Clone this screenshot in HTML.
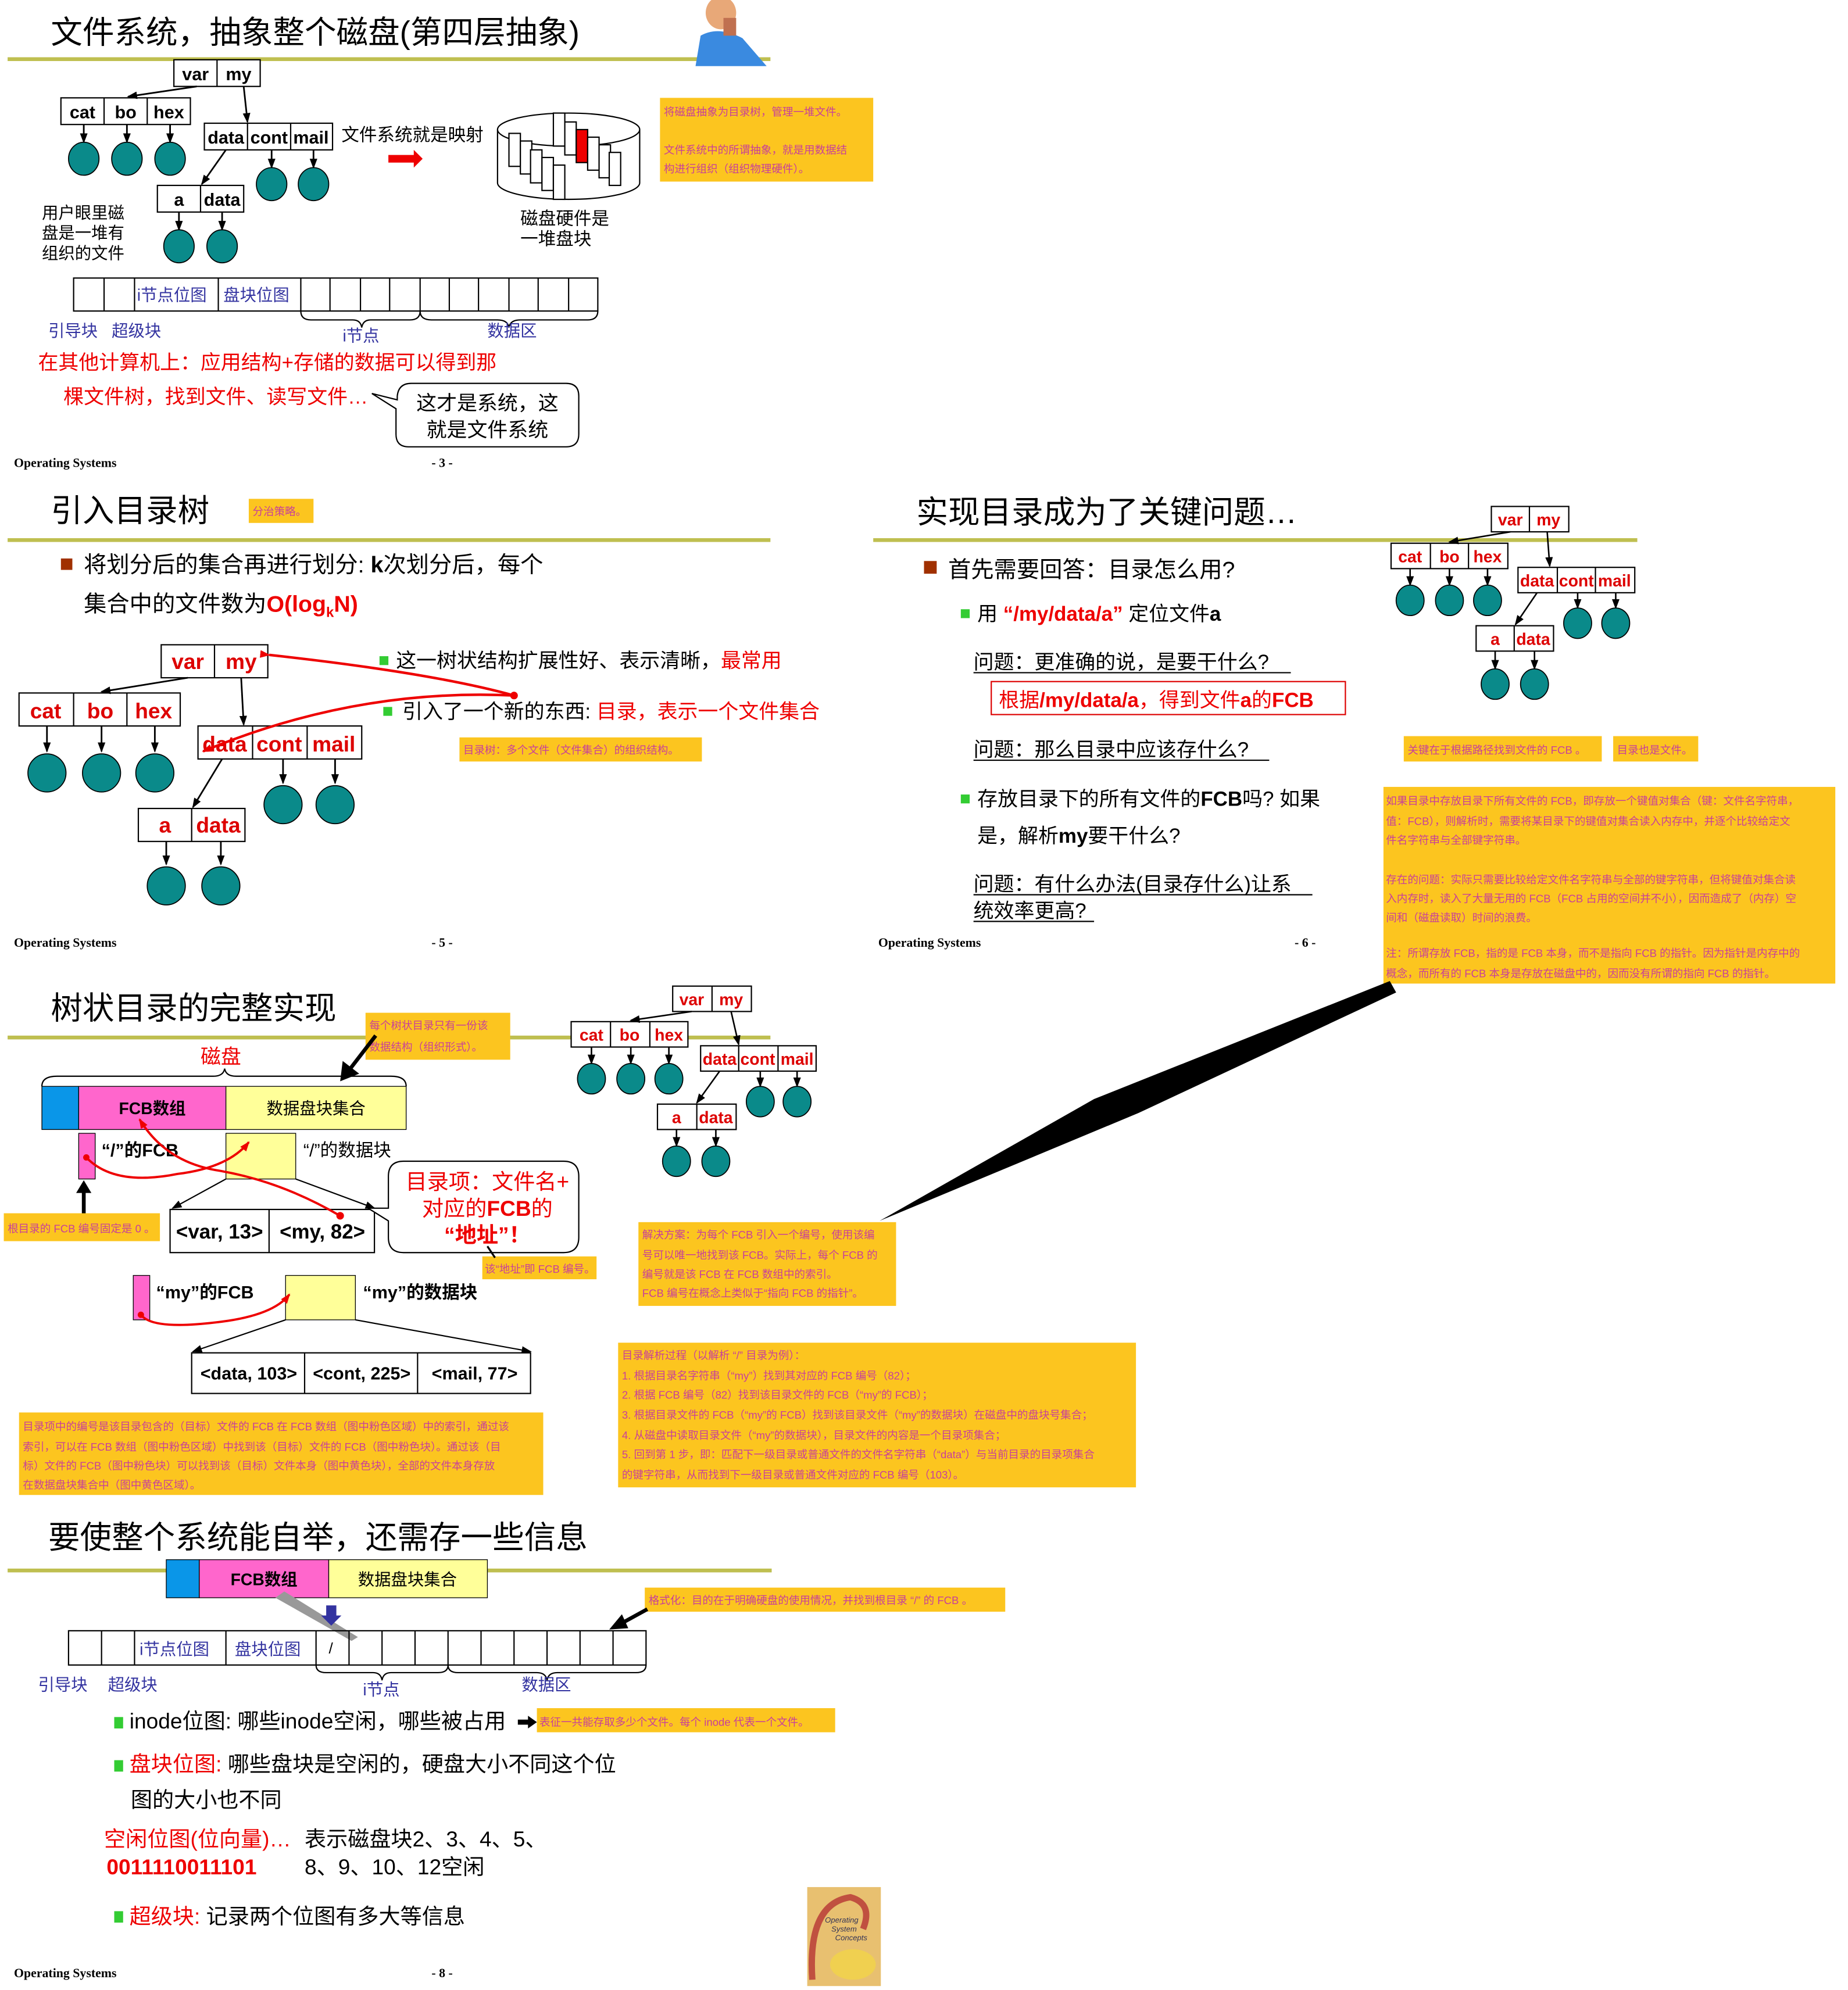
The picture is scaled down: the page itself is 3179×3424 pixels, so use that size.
<!DOCTYPE html>
<html><head><meta charset="utf-8"><style>
html,body{margin:0;padding:0;background:#fff;}
svg{display:block;}
text{font-family:"Liberation Sans","Noto Sans CJK SC",sans-serif;}
.t{font-size:25px;fill:#000;}
.os{font-family:"Liberation Serif",serif;font-weight:bold;font-size:10px;}
.n{fill:#c8409a;font-size:8.5px;}
.y{fill:#fcc51f;}
.b{fill:#3333a0;}
.tr{font-weight:bold;fill:#d00;}
</style></head><body>
<svg width="3179" height="3424" viewBox="0 0 1456 1568" xmlns="http://www.w3.org/2000/svg">
<defs>
<marker id="a" markerWidth="8" markerHeight="8" refX="7" refY="4" orient="auto" markerUnits="userSpaceOnUse"><path d="M0,1 L8,4 L0,7z" fill="#000"/></marker>
<marker id="r" markerWidth="8" markerHeight="8" refX="7" refY="4" orient="auto" markerUnits="userSpaceOnUse"><path d="M0,1 L8,4 L0,7z" fill="#e00"/></marker>
</defs>
<rect width="1456" height="1568" fill="#fff"/>

<!-- ===== Slide 3 ===== -->
<text x="40" y="34" class="t" font-size="26">文件系统，抽象整个磁盘(第四层抽象)</text>
<rect x="6" y="45" width="601" height="3" fill="#bfbf50"/>
<ellipse cx="568" cy="10" rx="12" ry="13" fill="#e8a878"/>
<path d="M548,52 L552,28 Q566,20 585,30 L604,52z" fill="#3a8ae0"/>
<rect x="570" y="14" width="10" height="14" fill="#c07050"/>
<g stroke="#000" fill="#fff" stroke-width="1">
<rect x="137" y="47" width="68" height="21"/><line x1="171" y1="47" x2="171" y2="68"/>
<rect x="48" y="77" width="102" height="21"/><line x1="82" y1="77" x2="82" y2="98"/><line x1="116" y1="77" x2="116" y2="98"/>
<rect x="161" y="97" width="101" height="21"/><line x1="195" y1="97" x2="195" y2="118"/><line x1="229" y1="97" x2="229" y2="118"/>
<rect x="124" y="146" width="68" height="21"/><line x1="158" y1="146" x2="158" y2="167"/>
</g>
<g font-size="14" font-weight="bold" text-anchor="middle">
<text x="154" y="63">var</text><text x="188" y="63">my</text>
<text x="65" y="93">cat</text><text x="99" y="93">bo</text><text x="133" y="93">hex</text>
<text x="178" y="113">data</text><text x="212" y="113">cont</text><text x="245" y="113">mail</text>
<text x="141" y="162">a</text><text x="175" y="162">data</text>
</g>
<g stroke="#000" stroke-width="1.3" marker-end="url(#a)">
<line x1="155" y1="68" x2="101" y2="76"/><line x1="192" y1="68" x2="195" y2="96"/><line x1="178" y1="118" x2="159" y2="145"/>
<line x1="66" y1="98" x2="66" y2="112"/><line x1="100" y1="98" x2="100" y2="112"/><line x1="134" y1="98" x2="134" y2="112"/>
<line x1="214" y1="118" x2="214" y2="132"/><line x1="247" y1="118" x2="247" y2="132"/>
<line x1="141" y1="167" x2="141" y2="181"/><line x1="175" y1="167" x2="175" y2="181"/>
</g>
<g fill="#0a8a8a" stroke="#000" stroke-width="0.8">
<ellipse cx="66" cy="125" rx="12" ry="13"/><ellipse cx="100" cy="125" rx="12" ry="13"/><ellipse cx="134" cy="125" rx="12" ry="13"/>
<ellipse cx="214" cy="145" rx="12" ry="13"/><ellipse cx="247" cy="145" rx="12" ry="13"/>
<ellipse cx="141" cy="194" rx="12" ry="13"/><ellipse cx="175" cy="194" rx="12" ry="13"/>
</g>
<text x="269" y="111" font-size="14">文件系统就是映射</text>
<path d="M306,122 L326,122 L326,118 L333,125 L326,132 L326,128 L306,128z" fill="#e00"/>
<g stroke="#000" fill="none" stroke-width="1">
<ellipse cx="448" cy="102" rx="56" ry="13" fill="#fff"/>
<path d="M392,102 L392,144 A56,13 0 0 0 504,144 L504,102"/>
<rect x="436" y="89" width="9" height="26" fill="#fff"/><rect x="445" y="96" width="9" height="26" fill="#fff"/>
<rect x="454" y="102" width="9" height="26" fill="#e00"/><rect x="463" y="108" width="9" height="26" fill="#fff"/>
<rect x="472" y="114" width="9" height="26" fill="#fff"/><rect x="480" y="120" width="9" height="26" fill="#fff"/>
<rect x="401" y="105" width="9" height="26" fill="#fff"/><rect x="410" y="111" width="9" height="26" fill="#fff"/>
<rect x="418" y="118" width="9" height="26" fill="#fff"/><rect x="427" y="124" width="9" height="26" fill="#fff"/>
<rect x="436" y="130" width="9" height="27" fill="#fff"/>
</g>
<text x="410" y="177" font-size="14">磁盘硬件是</text><text x="410" y="193" font-size="14">一堆盘块</text>
<rect x="520" y="77" width="168" height="66" class="y"/>
<text x="523" y="91" class="n">将磁盘抽象为目录树，管理一堆文件。</text>
<text x="523" y="121" class="n">文件系统中的所谓抽象，就是用数据结</text>
<text x="523" y="136" class="n">构进行组织（组织物理硬件）。</text>
<text x="33" y="172" font-size="13">用户眼里磁</text><text x="33" y="188" font-size="13">盘是一堆有</text><text x="33" y="204" font-size="13">组织的文件</text>
<g stroke="#000" fill="none" stroke-width="1">
<rect x="58" y="219" width="413" height="26"/>
<line x1="82" y1="219" x2="82" y2="245"/><line x1="106" y1="219" x2="106" y2="245"/><line x1="172" y1="219" x2="172" y2="245"/><line x1="237" y1="219" x2="237" y2="245"/>
<line x1="260" y1="219" x2="260" y2="245"/><line x1="284" y1="219" x2="284" y2="245"/><line x1="307" y1="219" x2="307" y2="245"/><line x1="331" y1="219" x2="331" y2="245"/><line x1="354" y1="219" x2="354" y2="245"/><line x1="377" y1="219" x2="377" y2="245"/><line x1="401" y1="219" x2="401" y2="245"/><line x1="424" y1="219" x2="424" y2="245"/><line x1="448" y1="219" x2="448" y2="245"/>
<path d="M237,245 Q237,252 245,252 L278,252 Q284,252 285,258 Q286,252 292,252 L323,252 Q331,252 331,245"/>
<path d="M331,245 Q331,252 340,252 L392,252 Q400,252 401,258 Q402,252 410,252 L463,252 Q471,252 471,245"/>
</g>
<text x="108" y="237" font-size="13" class="b">i节点位图</text><text x="176" y="237" font-size="13" class="b">盘块位图</text>
<text x="38" y="265" font-size="13" class="b">引导块</text><text x="88" y="265" font-size="13" class="b">超级块</text>
<text x="270" y="269" font-size="13" class="b">i节点</text><text x="384" y="265" font-size="13" class="b">数据区</text>
<text x="30" y="291" font-size="16" fill="#e00">在其他计算机上：应用结构+存储的数据可以得到那</text>
<text x="50" y="318" font-size="16" fill="#e00">棵文件树，找到文件、读写文件…</text>
<path d="M324,302 L446,302 Q456,302 456,312 L456,342 Q456,352 446,352 L322,352 Q312,352 312,342 L312,322 L293,310 L313,315 L313,312 Q314,302 324,302z" fill="#fff" stroke="#000"/>
<text x="384" y="323" font-size="16" text-anchor="middle">这才是系统，这</text><text x="384" y="344" font-size="16" text-anchor="middle">就是文件系统</text>
<text x="11" y="368" class="os">Operating Systems</text><text x="340" y="368" class="os">- 3 -</text>

<!-- ===== Slide 5 ===== -->
<text x="40" y="411" class="t">引入目录树</text>
<rect x="196" y="393" width="51" height="19" class="y"/><text x="199" y="406" class="n">分治策略。</text>
<rect x="6" y="424" width="601" height="3" fill="#bfbf50"/>
<rect x="48" y="440" width="9" height="9" fill="#a03000"/>
<text x="66" y="451" font-size="18">将划分后的集合再进行划分: <tspan font-weight="bold">k</tspan>次划分后，每个</text>
<text x="66" y="482" font-size="18">集合中的文件数为<tspan fill="#e00" font-weight="bold">O(log<tspan font-size="11" dy="4">k</tspan><tspan dy="-4">N)</tspan></tspan></text>
<g stroke="#000" fill="#fff" stroke-width="1">
<rect x="127" y="508" width="84" height="26"/><line x1="169" y1="508" x2="169" y2="534"/>
<rect x="15" y="546" width="127" height="26"/><line x1="58" y1="546" x2="58" y2="572"/><line x1="100" y1="546" x2="100" y2="572"/>
<rect x="156" y="572" width="129" height="26"/><line x1="199" y1="572" x2="199" y2="598"/><line x1="242" y1="572" x2="242" y2="598"/>
<rect x="109" y="637" width="84" height="26"/><line x1="151" y1="637" x2="151" y2="663"/>
</g>
<g font-size="17" class="tr" text-anchor="middle">
<text x="148" y="527">var</text><text x="190" y="527">my</text>
<text x="36" y="566">cat</text><text x="79" y="566">bo</text><text x="121" y="566">hex</text>
<text x="177" y="592">data</text><text x="220" y="592">cont</text><text x="263" y="592">mail</text>
<text x="130" y="656">a</text><text x="172" y="656">data</text>
</g>
<g stroke="#000" stroke-width="1.3" marker-end="url(#a)">
<line x1="148" y1="534" x2="80" y2="545"/><line x1="190" y1="534" x2="192" y2="571"/><line x1="175" y1="598" x2="152" y2="636"/>
<line x1="37" y1="572" x2="37" y2="592"/><line x1="80" y1="572" x2="80" y2="592"/><line x1="122" y1="572" x2="122" y2="592"/>
<line x1="223" y1="598" x2="223" y2="617"/><line x1="264" y1="598" x2="264" y2="617"/>
<line x1="131" y1="663" x2="131" y2="681"/><line x1="174" y1="663" x2="174" y2="681"/>
</g>
<g fill="#0a8a8a" stroke="#000" stroke-width="0.8">
<ellipse cx="37" cy="609" rx="15" ry="15"/><ellipse cx="80" cy="609" rx="15" ry="15"/><ellipse cx="122" cy="609" rx="15" ry="15"/>
<ellipse cx="223" cy="634" rx="15" ry="15"/><ellipse cx="264" cy="634" rx="15" ry="15"/>
<ellipse cx="131" cy="698" rx="15" ry="15"/><ellipse cx="174" cy="698" rx="15" ry="15"/>
</g>
<rect x="299" y="517" width="7" height="7" fill="#3c3"/>
<text x="312" y="526" font-size="16">这一树状结构扩展性好、表示清晰，<tspan fill="#e00">最常用</tspan></text>
<rect x="302" y="557" width="7" height="7" fill="#3c3"/>
<text x="317" y="566" font-size="16">引入了一个新的东西: <tspan fill="#e00">目录，表示一个文件集合</tspan></text>
<path d="M212,516 Q340,530 405,548" stroke="#e00" stroke-width="2" fill="none" marker-start="url(#r)"/>
<path d="M405,548 Q280,542 160,592" stroke="#e00" stroke-width="2" fill="none" marker-end="url(#r)"/>
<circle cx="405" cy="548" r="3" fill="#e00"/>
<rect x="362" y="581" width="191" height="19" class="y"/><text x="365" y="594" class="n">目录树：多个文件（文件集合）的组织结构。</text>
<text x="11" y="746" class="os">Operating Systems</text><text x="340" y="746" class="os">- 5 -</text>

<!-- ===== Slide 6 ===== -->
<text x="722" y="412" class="t">实现目录成为了关键问题…</text>
<rect x="688" y="424" width="602" height="3" fill="#bfbf50"/>
<g stroke="#000" fill="#fff" stroke-width="1">
<rect x="1175" y="399" width="61" height="20"/><line x1="1205" y1="399" x2="1205" y2="419"/>
<rect x="1096" y="428" width="92" height="20"/><line x1="1127" y1="428" x2="1127" y2="448"/><line x1="1157" y1="428" x2="1157" y2="448"/>
<rect x="1196" y="447" width="92" height="20"/><line x1="1227" y1="447" x2="1227" y2="467"/><line x1="1257" y1="447" x2="1257" y2="467"/>
<rect x="1163" y="493" width="61" height="20"/><line x1="1193" y1="493" x2="1193" y2="513"/>
</g>
<g font-size="13" class="tr" text-anchor="middle">
<text x="1190" y="414">var</text><text x="1220" y="414">my</text>
<text x="1111" y="443">cat</text><text x="1142" y="443">bo</text><text x="1172" y="443">hex</text>
<text x="1211" y="462">data</text><text x="1242" y="462">cont</text><text x="1272" y="462">mail</text>
<text x="1178" y="508">a</text><text x="1208" y="508">data</text>
</g>
<g stroke="#000" stroke-width="1.2" marker-end="url(#a)">
<line x1="1190" y1="419" x2="1142" y2="427"/><line x1="1219" y1="419" x2="1221" y2="446"/><line x1="1211" y1="467" x2="1194" y2="492"/>
<line x1="1111" y1="448" x2="1111" y2="461"/><line x1="1142" y1="448" x2="1142" y2="461"/><line x1="1172" y1="448" x2="1172" y2="461"/>
<line x1="1243" y1="467" x2="1243" y2="479"/><line x1="1273" y1="467" x2="1273" y2="479"/>
<line x1="1178" y1="513" x2="1178" y2="527"/><line x1="1209" y1="513" x2="1209" y2="527"/>
</g>
<g fill="#0a8a8a" stroke="#000" stroke-width="0.8">
<ellipse cx="1111" cy="473" rx="11" ry="12"/><ellipse cx="1142" cy="473" rx="11" ry="12"/><ellipse cx="1172" cy="473" rx="11" ry="12"/>
<ellipse cx="1243" cy="491" rx="11" ry="12"/><ellipse cx="1273" cy="491" rx="11" ry="12"/>
<ellipse cx="1178" cy="539" rx="11" ry="12"/><ellipse cx="1209" cy="539" rx="11" ry="12"/>
</g>
<rect x="728" y="442" width="10" height="10" fill="#a03000"/>
<text x="747" y="455" font-size="18">首先需要回答：目录怎么用?</text>
<rect x="757" y="480" width="7" height="7" fill="#3c3"/>
<text x="770" y="489" font-size="16">用 <tspan fill="#e00" font-weight="bold">“/my/data/a”</tspan> 定位文件<tspan font-weight="bold">a</tspan></text>
<text x="767" y="527" font-size="16">问题：更准确的说，是要干什么?</text>
<line x1="767" y1="530" x2="1017" y2="530" stroke="#000"/>
<rect x="781" y="537" width="279" height="26" fill="none" stroke="#d00"/>
<text x="787" y="557" font-size="16" fill="#e00">根据<tspan font-weight="bold">/my/data/a</tspan>，得到文件<tspan font-weight="bold">a</tspan>的<tspan font-weight="bold">FCB</tspan></text>
<text x="767" y="596" font-size="16">问题：那么目录中应该存什么?</text><line x1="767" y1="599" x2="1000" y2="599" stroke="#000"/>
<rect x="757" y="626" width="7" height="7" fill="#3c3"/>
<text x="770" y="635" font-size="16">存放目录下的所有文件的<tspan font-weight="bold">FCB</tspan>吗? 如果</text>
<text x="770" y="664" font-size="16">是，解析<tspan font-weight="bold">my</tspan>要干什么?</text>
<text x="767" y="702" font-size="16">问题：有什么办法(目录存什么)让系</text><line x1="767" y1="705" x2="1034" y2="705" stroke="#000"/>
<text x="767" y="723" font-size="16">统效率更高?</text><line x1="767" y1="726" x2="862" y2="726" stroke="#000"/>
<text x="692" y="746" class="os">Operating Systems</text><text x="1020" y="746" class="os">- 6 -</text>
<rect x="1106" y="580" width="156" height="20" class="y"/><text x="1109" y="594" class="n">关键在于根据路径找到文件的 FCB 。</text>
<rect x="1271" y="580" width="67" height="20" class="y"/><text x="1274" y="594" class="n">目录也是文件。</text>
<rect x="1090" y="620" width="356" height="155" class="y"/>
<text x="1092" y="634" class="n">如果目录中存放目录下所有文件的 FCB，即存放一个键值对集合（键：文件名字符串，</text>
<text x="1092" y="650" class="n">值：FCB），则解析时，需要将某目录下的键值对集合读入内存中，并逐个比较给定文</text>
<text x="1092" y="665" class="n">件名字符串与全部键字符串。</text>
<text x="1092" y="696" class="n">存在的问题：实际只需要比较给定文件名字符串与全部的键字符串，但将键值对集合读</text>
<text x="1092" y="711" class="n">入内存时，读入了大量无用的 FCB（FCB 占用的空间并不小），因而造成了（内存）空</text>
<text x="1092" y="726" class="n">间和（磁盘读取）时间的浪费。</text>
<text x="1092" y="754" class="n">注：所谓存放 FCB，指的是 FCB 本身，而不是指向 FCB 的指针。因为指针是内存中的</text>
<text x="1092" y="770" class="n">概念，而所有的 FCB 本身是存放在磁盘中的，因而没有所谓的指向 FCB 的指针。</text>
<polygon points="1095,773 1100,782 897,877 693,962 862,866" fill="#000"/>

<!-- ===== Slide 7 ===== -->
<text x="40" y="803" class="t">树状目录的完整实现</text>
<rect x="6" y="816" width="601" height="3" fill="#bfbf50"/>
<rect x="288" y="798" width="114" height="37" class="y"/>
<text x="291" y="811" class="n">每个树状目录只有一份该</text><text x="291" y="828" class="n">数据结构（组织形式）。</text>
<text x="158" y="838" font-size="16" fill="#e00">磁盘</text>
<path d="M33,856 Q33,848 45,848 L168,848 Q176,848 177,842 Q178,848 186,848 L308,848 Q320,848 320,856" fill="none" stroke="#000"/>
<line x1="296" y1="816" x2="276" y2="842" stroke="#000" stroke-width="3"/><path d="M268,852 L270,836 L283,846z" fill="#000"/>
<rect x="33" y="856" width="29" height="34" fill="#0a96e8" stroke="#000" stroke-width="0.6"/>
<rect x="62" y="856" width="116" height="34" fill="#ff66cc" stroke="#000" stroke-width="0.6"/>
<rect x="178" y="856" width="142" height="34" fill="#ffff99" stroke="#000" stroke-width="0.6"/>
<text x="120" y="878" font-size="13" font-weight="bold" text-anchor="middle">FCB数组</text>
<text x="249" y="878" font-size="13" text-anchor="middle">数据盘块集合</text>
<rect x="62" y="893" width="13" height="36" fill="#ff66cc" stroke="#000" stroke-width="0.6"/>
<text x="80" y="911" font-size="14" font-weight="bold">“/”的FCB</text>
<rect x="178" y="893" width="55" height="36" fill="#ffff99" stroke="#000" stroke-width="0.6"/>
<text x="239" y="911" font-size="14">“/”的数据块</text>
<line x1="178" y1="929" x2="136" y2="952" stroke="#000" marker-end="url(#a)"/>
<line x1="233" y1="929" x2="295" y2="952" stroke="#000" marker-end="url(#a)"/>
<rect x="134" y="953" width="161" height="34" fill="#fff" stroke="#000"/><line x1="212" y1="953" x2="212" y2="987" stroke="#000"/>
<text x="173" y="976" font-size="16" font-weight="bold" text-anchor="middle">&lt;var, 13&gt;</text>
<text x="254" y="976" font-size="16" font-weight="bold" text-anchor="middle">&lt;my, 82&gt;</text>
<line x1="66" y1="958" x2="66" y2="936" stroke="#000" stroke-width="3"/><path d="M60,940 L66,930 L72,940z" fill="#000"/>
<rect x="3" y="956" width="123" height="22" class="y"/><text x="6" y="971" class="n">根目录的 FCB 编号固定是 0 。</text>
<path d="M68,912 Q90,935 140,925 Q180,920 196,900" stroke="#e00" stroke-width="1.8" fill="none" marker-end="url(#r)"/>
<circle cx="68" cy="912" r="2.5" fill="#e00"/>
<path d="M268,958 Q220,930 170,922 Q130,915 110,882" stroke="#e00" stroke-width="1.8" fill="none" marker-end="url(#r)"/>
<circle cx="268" cy="958" r="3" fill="#e00"/>
<path d="M318,915 L444,915 Q456,915 456,927 L456,975 Q456,987 444,987 L318,987 Q306,987 306,975 L306,962 L290,952 L306,952 L306,927 Q306,915 318,915z" fill="#fff" stroke="#000"/>
<text x="384" y="937" font-size="17" fill="#e00" text-anchor="middle">目录项：文件名+</text>
<text x="384" y="958" font-size="17" fill="#e00" text-anchor="middle">对应的<tspan font-weight="bold">FCB</tspan>的</text>
<text x="384" y="979" font-size="17" fill="#e00" text-anchor="middle" font-weight="bold">“地址”！</text>
<rect x="380" y="990" width="90" height="18" class="y"/><text x="382" y="1003" class="n">该“地址”即 FCB 编号。</text>
<line x1="390" y1="991" x2="384" y2="982" stroke="#000" stroke-width="1.5"/>
<rect x="105" y="1005" width="13" height="35" fill="#ff66cc" stroke="#000" stroke-width="0.6"/>
<text x="123" y="1023" font-size="14" font-weight="bold">“my”的FCB</text>
<rect x="225" y="1005" width="55" height="35" fill="#ffff99" stroke="#000" stroke-width="0.6"/>
<text x="286" y="1023" font-size="14" font-weight="bold">“my”的数据块</text>
<path d="M111,1036 Q120,1048 170,1042 Q215,1037 228,1020" stroke="#e00" stroke-width="1.8" fill="none" marker-end="url(#r)"/>
<circle cx="111" cy="1036" r="2.5" fill="#e00"/>
<line x1="225" y1="1040" x2="152" y2="1065" stroke="#000" marker-end="url(#a)"/>
<line x1="280" y1="1040" x2="418" y2="1065" stroke="#000" marker-end="url(#a)"/>
<rect x="151" y="1066" width="267" height="32" fill="#fff" stroke="#000"/>
<line x1="240" y1="1066" x2="240" y2="1098" stroke="#000"/><line x1="329" y1="1066" x2="329" y2="1098" stroke="#000"/>
<g font-size="14" font-weight="bold" text-anchor="middle"><text x="196" y="1087">&lt;data, 103&gt;</text><text x="285" y="1087">&lt;cont, 225&gt;</text><text x="374" y="1087">&lt;mail, 77&gt;</text></g>
<rect x="15" y="1113" width="413" height="65" class="y"/>
<text x="18" y="1127" class="n">目录项中的编号是该目录包含的（目标）文件的 FCB 在 FCB 数组（图中粉色区域）中的索引，通过该</text>
<text x="18" y="1143" class="n">索引，可以在 FCB 数组（图中粉色区域）中找到该（目标）文件的 FCB（图中粉色块）。通过该（目</text>
<text x="18" y="1158" class="n">标）文件的 FCB（图中粉色块）可以找到该（目标）文件本身（图中黄色块），全部的文件本身存放</text>
<text x="18" y="1173" class="n">在数据盘块集合中（图中黄色区域）。</text>
<g stroke="#000" fill="#fff" stroke-width="1">
<rect x="530" y="777" width="62" height="20"/><line x1="561" y1="777" x2="561" y2="797"/>
<rect x="450" y="805" width="92" height="20"/><line x1="481" y1="805" x2="481" y2="825"/><line x1="512" y1="805" x2="512" y2="825"/>
<rect x="552" y="824" width="91" height="20"/><line x1="582" y1="824" x2="582" y2="844"/><line x1="613" y1="824" x2="613" y2="844"/>
<rect x="518" y="870" width="62" height="20"/><line x1="549" y1="870" x2="549" y2="890"/>
</g>
<g font-size="13" class="tr" text-anchor="middle">
<text x="545" y="792">var</text><text x="576" y="792">my</text>
<text x="466" y="820">cat</text><text x="496" y="820">bo</text><text x="527" y="820">hex</text>
<text x="567" y="839">data</text><text x="597" y="839">cont</text><text x="628" y="839">mail</text>
<text x="533" y="885">a</text><text x="564" y="885">data</text>
</g>
<g stroke="#000" stroke-width="1.2" marker-end="url(#a)">
<line x1="545" y1="797" x2="497" y2="804"/><line x1="576" y1="797" x2="582" y2="823"/><line x1="567" y1="844" x2="549" y2="869"/>
<line x1="466" y1="825" x2="466" y2="838"/><line x1="497" y1="825" x2="497" y2="838"/><line x1="527" y1="825" x2="527" y2="838"/>
<line x1="599" y1="844" x2="599" y2="856"/><line x1="628" y1="844" x2="628" y2="856"/>
<line x1="533" y1="890" x2="533" y2="903"/><line x1="564" y1="890" x2="564" y2="903"/>
</g>
<g fill="#0a8a8a" stroke="#000" stroke-width="0.8">
<ellipse cx="466" cy="850" rx="11" ry="12"/><ellipse cx="497" cy="850" rx="11" ry="12"/><ellipse cx="527" cy="850" rx="11" ry="12"/>
<ellipse cx="599" cy="868" rx="11" ry="12"/><ellipse cx="628" cy="868" rx="11" ry="12"/>
<ellipse cx="533" cy="915" rx="11" ry="12"/><ellipse cx="564" cy="915" rx="11" ry="12"/>
</g>
<rect x="503" y="963" width="203" height="66" class="y"/>
<text x="506" y="976" class="n">解决方案：为每个 FCB 引入一个编号，使用该编</text>
<text x="506" y="992" class="n">号可以唯一地找到该 FCB。实际上，每个 FCB 的</text>
<text x="506" y="1007" class="n">编号就是该 FCB 在 FCB 数组中的索引。</text>
<text x="506" y="1022" class="n">FCB 编号在概念上类似于“指向 FCB 的指针”。</text>
<rect x="487" y="1058" width="408" height="114" class="y"/>
<text x="490" y="1071" class="n">目录解析过程（以解析 “/” 目录为例）：</text>
<text x="490" y="1087" class="n">1. 根据目录名字符串（“my”）找到其对应的 FCB 编号（82）；</text>
<text x="490" y="1102" class="n">2. 根据 FCB 编号（82）找到该目录文件的 FCB（“my”的 FCB）；</text>
<text x="490" y="1118" class="n">3. 根据目录文件的 FCB（“my”的 FCB）找到该目录文件（“my”的数据块）在磁盘中的盘块号集合；</text>
<text x="490" y="1134" class="n">4. 从磁盘中读取目录文件（“my”的数据块），目录文件的内容是一个目录项集合；</text>
<text x="490" y="1149" class="n">5. 回到第 1 步，即：匹配下一级目录或普通文件的文件名字符串（“data”）与当前目录的目录项集合</text>
<text x="490" y="1165" class="n">的键字符串，从而找到下一级目录或普通文件对应的 FCB 编号（103）。</text>

<!-- ===== Slide 8 ===== -->
<text x="38" y="1220" class="t">要使整个系统能自举，还需存一些信息</text>
<rect x="6" y="1236" width="602" height="3" fill="#bfbf50"/>
<rect x="131" y="1229" width="26" height="30" fill="#0a96e8" stroke="#000" stroke-width="0.6"/>
<rect x="157" y="1229" width="102" height="30" fill="#ff66cc" stroke="#000" stroke-width="0.6"/>
<rect x="259" y="1229" width="125" height="30" fill="#ffff99" stroke="#000" stroke-width="0.6"/>
<text x="208" y="1249" font-size="13" font-weight="bold" text-anchor="middle">FCB数组</text>
<text x="321" y="1249" font-size="13" text-anchor="middle">数据盘块集合</text>
<rect x="508" y="1251" width="284" height="19" class="y"/>
<text x="511" y="1264" class="n">格式化：目的在于明确硬盘的使用情况，并找到根目录 “/” 的 FCB 。</text>
<line x1="510" y1="1268" x2="490" y2="1279" stroke="#000" stroke-width="3"/><path d="M480,1284 L490,1272 L495,1283z" fill="#000"/>
<polygon points="217,1259 224,1254 282,1290 277,1293" fill="#999"/>
<path d="M257,1265 L265,1265 L265,1273 L269,1273 L261,1281 L253,1273 L257,1273z" fill="#3333a0"/>
<g stroke="#000" fill="none" stroke-width="1">
<rect x="54" y="1285" width="455" height="27"/>
<line x1="80" y1="1285" x2="80" y2="1312"/><line x1="106" y1="1285" x2="106" y2="1312"/><line x1="178" y1="1285" x2="178" y2="1312"/><line x1="249" y1="1285" x2="249" y2="1312"/><line x1="275" y1="1285" x2="275" y2="1312"/>
<line x1="301" y1="1285" x2="301" y2="1312"/><line x1="327" y1="1285" x2="327" y2="1312"/><line x1="353" y1="1285" x2="353" y2="1312"/><line x1="379" y1="1285" x2="379" y2="1312"/><line x1="405" y1="1285" x2="405" y2="1312"/><line x1="431" y1="1285" x2="431" y2="1312"/><line x1="457" y1="1285" x2="457" y2="1312"/><line x1="483" y1="1285" x2="483" y2="1312"/>
<path d="M249,1312 Q249,1318 257,1318 L294,1318 Q300,1318 301,1324 Q302,1318 308,1318 L345,1318 Q353,1318 353,1312"/>
<path d="M353,1312 Q353,1318 361,1318 L423,1318 Q430,1318 431,1324 Q432,1318 439,1318 L501,1318 Q509,1318 509,1312"/>
</g>
<text x="110" y="1304" font-size="13" class="b">i节点位图</text><text x="185" y="1304" font-size="13" class="b">盘块位图</text>
<text x="259" y="1303" font-size="12">/</text>
<text x="30" y="1332" font-size="13" class="b">引导块</text><text x="85" y="1332" font-size="13" class="b">超级块</text>
<text x="286" y="1336" font-size="13" class="b">i节点</text><text x="411" y="1332" font-size="13" class="b">数据区</text>
<rect x="90" y="1353" width="7" height="9" fill="#3c3"/>
<text x="102" y="1362" font-size="17">inode位图: 哪些inode空闲，哪些被占用</text>
<path d="M408,1355 L416,1355 L416,1352 L423,1357 L416,1362 L416,1359 L408,1359z" fill="#000"/>
<rect x="423" y="1346" width="235" height="19" class="y"/>
<text x="425" y="1360" class="n">表征一共能存取多少个文件。每个 inode 代表一个文件。</text>
<rect x="90" y="1387" width="7" height="9" fill="#3c3"/>
<text x="102" y="1396" font-size="17"><tspan fill="#e00">盘块位图:</tspan> 哪些盘块是空闲的，硬盘大小不同这个位</text>
<text x="103" y="1424" font-size="17">图的大小也不同</text>
<text x="82" y="1455" font-size="17" fill="#e00">空闲位图(位向量)…</text>
<text x="240" y="1455" font-size="17">表示磁盘块2、3、4、5、</text>
<text x="84" y="1477" font-size="17" fill="#e00" font-weight="bold">0011110011101</text>
<text x="240" y="1477" font-size="17">8、9、10、12空闲</text>
<rect x="90" y="1506" width="7" height="9" fill="#3c3"/>
<text x="102" y="1516" font-size="17"><tspan fill="#e00">超级块:</tspan> 记录两个位图有多大等信息</text>
<rect x="636" y="1487" width="58" height="78" fill="#e8c070"/>
<path d="M640,1560 Q636,1500 670,1495 Q688,1500 680,1520" stroke="#c05040" stroke-width="5" fill="none"/>
<ellipse cx="672" cy="1548" rx="18" ry="12" fill="#f0d050"/>
<text x="650" y="1515" font-size="6" fill="#335" font-style="italic">Operating</text>
<text x="655" y="1522" font-size="6" fill="#335" font-style="italic">System</text>
<text x="658" y="1529" font-size="6" fill="#335" font-style="italic">Concepts</text>
<text x="11" y="1558" class="os">Operating Systems</text><text x="340" y="1558" class="os">- 8 -</text>
</svg>
</body></html>
